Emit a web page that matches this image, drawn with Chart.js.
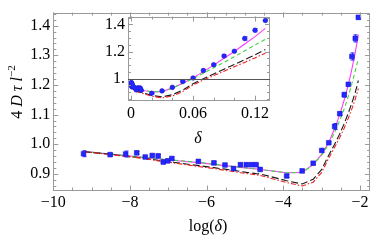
<!DOCTYPE html>
<html lang="en">
<head>
<meta charset="UTF-8">
<title>4 D tau l^-2 versus log(delta)</title>
<script src="https://cdn.jsdelivr.net/npm/chart.js@4.4.1/dist/chart.umd.min.js"></script>
<style>
    body { margin: 0; background: #fff; }
    #wrap { position: relative; width: 374px; height: 240px; overflow: hidden; }
    #mainChart { position: absolute; left: 0; top: 0; }
    #insetChart { position: absolute; left: 90px; top: 4px; }
</style>
</head>
<body>
<div id="wrap">
    <canvas id="mainChart" width="374" height="240"></canvas>
    <canvas id="insetChart" width="190" height="145"></canvas>
</div>
<script>
// delta values of the measurements and of the model curves
const delta = [0.0001, 0.0002, 0.0003, 0.0004, 0.0005, 0.0006, 0.0007, 0.0008, 0.0009, 0.001,
               0.002, 0.003, 0.004, 0.005, 0.006, 0.007, 0.008, 0.009, 0.01,
               0.02, 0.03, 0.04, 0.05, 0.06, 0.07, 0.08, 0.09, 0.10, 0.11, 0.12, 0.13];
// measured 4 D tau / l^2 with error bars
const measured = [0.968, 0.965, 0.967, 0.971, 0.957, 0.962, 0.961, 0.940, 0.944, 0.952,
                  0.942, 0.937, 0.930, 0.918, 0.931, 0.931, 0.931, 0.931, 0.915,
                  0.893, 0.910, 0.936, 0.979, 1.005, 1.060, 1.103, 1.167, 1.202, 1.296, 1.357, 1.428];
const errors = [0.010, 0.004, 0.010, 0.005, 0.004, 0.005, 0.004, 0.006, 0.005, 0.005,
                0.004, 0.004, 0.004, 0.004, 0.004, 0.004, 0.004, 0.004, 0.004,
                0.005, 0.004, 0.005, 0.006, 0.004, 0.010, 0.005, 0.008, 0.005, 0.012, 0.012, 0.006];
// model curves
const curveMagenta = [0.976, 0.967, 0.962, 0.958, 0.955, 0.953, 0.951, 0.949, 0.947, 0.946,
                      0.938, 0.932, 0.928, 0.925, 0.922, 0.920, 0.918, 0.917, 0.915,
                      0.904, 0.905, 0.932, 0.966, 1.006, 1.052, 1.100, 1.150, 1.200, 1.255, 1.310, 1.370];
const curveGreen = [0.976, 0.967, 0.962, 0.958, 0.955, 0.953, 0.951, 0.949, 0.948, 0.947,
                    0.939, 0.933, 0.928, 0.925, 0.922, 0.920, 0.918, 0.917, 0.915,
                    0.904, 0.905, 0.931, 0.964, 1.000, 1.040, 1.080, 1.120, 1.162, 1.205, 1.248, 1.290];
const curveBlack = [0.975, 0.966, 0.960, 0.956, 0.952, 0.949, 0.946, 0.944, 0.942, 0.940,
                    0.928, 0.921, 0.916, 0.912, 0.908, 0.905, 0.903, 0.901, 0.900,
                    0.877, 0.866, 0.882, 0.915, 0.963, 1.000, 1.035, 1.070, 1.105, 1.140, 1.175, 1.215];
const curveRed = [0.975, 0.965, 0.959, 0.955, 0.951, 0.947, 0.944, 0.942, 0.940, 0.938,
                  0.925, 0.918, 0.912, 0.908, 0.904, 0.901, 0.899, 0.897, 0.895,
                  0.871, 0.859, 0.872, 0.905, 0.953, 0.990, 1.023, 1.055, 1.088, 1.120, 1.153, 1.188];
// tick labels
const mainXTicks = [-10, -8, -6, -4, -2];
const mainYTicks = [0.9, 1.0, 1.1, 1.2, 1.3, 1.4];
const insetXTicks = [0, 0.06, 0.12];
const insetXLabels = ['0', '0.06', '0.12'];
const insetYTicks = [1.0, 1.2, 1.4];
const insetYLabels = ['1.', '1.2', '1.4'];

const serif = '"Liberation Serif", "DejaVu Serif", serif';
const tickFont = { family: serif, size: 16 };
const frameColor = '#9a9a9a';

function toPoints(xs, ys) {
    return xs.map((x, i) => ({ x: x, y: ys[i] }));
}
const logDelta = delta.map(d => Math.log(d));

function pointSet(xs, style, radius) {
    return {
        data: toPoints(xs, measured), errors: errors, showLine: false,
        pointStyle: style, pointRadius: radius, pointHoverRadius: radius,
        backgroundColor: '#2626ff', borderColor: '#1414c8', borderWidth: 0.6, order: 0
    };
}
function curveSet(xs, ys, color, dash, order) {
    return {
        data: toPoints(xs, ys), showLine: true, pointRadius: 0,
        borderColor: color, borderWidth: 1.1, borderDash: dash, order: order
    };
}

// frame with inward ticks on all four sides
const frameTicks = {
    id: 'frameTicks',
    afterDraw(chart, args, o) {
        const { ctx, chartArea: a, scales: { x, y } } = chart;
        ctx.save();
        ctx.strokeStyle = frameColor;
        ctx.lineWidth = 1;
        ctx.strokeRect(Math.round(a.left) + 0.5, Math.round(a.top) + 0.5,
                       Math.round(a.right - a.left) - 1, Math.round(a.bottom - a.top) - 1);
        const each = (scale, step, fn) => {
            for (let k = Math.ceil(scale.min / step - 1e-6); k * step <= scale.max + 1e-9; k++) {
                fn(scale.getPixelForValue(k * step));
            }
        };
        const tick = (x1, y1, x2, y2) => {
            ctx.beginPath(); ctx.moveTo(x1, y1); ctx.lineTo(x2, y2); ctx.stroke();
        };
        [[o.xMinor, 3], [o.xMajor, 5]].forEach(([step, len]) => each(x, step, px => {
            px = Math.round(px) + 0.5;
            tick(px, a.bottom, px, a.bottom - len);
            tick(px, a.top, px, a.top + len);
        }));
        [[o.yMinor, 3], [o.yMajor, 5]].forEach(([step, len]) => each(y, step, py => {
            py = Math.round(py) + 0.5;
            tick(a.left, py, a.left + len, py);
            tick(a.right, py, a.right - len, py);
        }));
        ctx.restore();
    }
};

// vertical error bars for datasets that carry an errors array
const errorBars = {
    id: 'errorBars',
    afterDatasetsDraw(chart) {
        const { ctx, scales: { x, y } } = chart;
        ctx.save();
        ctx.strokeStyle = '#2626ff';
        ctx.lineWidth = 1;
        chart.data.datasets.forEach(ds => {
            if (!ds.errors) return;
            ds.data.forEach((p, i) => {
                const px = Math.round(x.getPixelForValue(p.x)) + 0.5;
                const top = y.getPixelForValue(p.y + ds.errors[i]);
                const bot = y.getPixelForValue(p.y - ds.errors[i]);
                if (px < chart.chartArea.left || px > chart.chartArea.right) return;
                ctx.beginPath();
                ctx.moveTo(px, top); ctx.lineTo(px, bot);
                ctx.moveTo(px - 2, top); ctx.lineTo(px + 2, top);
                ctx.moveTo(px - 2, bot); ctx.lineTo(px + 2, bot);
                ctx.stroke();
            });
        });
        ctx.restore();
    }
};

// draws a run of text pieces with their own fonts, centred on cx
function drawPieces(ctx, pieces, cx, cy) {
    let total = 0;
    pieces.forEach(p => { ctx.font = p.font; p.w = ctx.measureText(p.text).width; total += p.w; });
    let x = cx - total / 2;
    ctx.textBaseline = 'middle';
    ctx.textAlign = 'left';
    pieces.forEach(p => {
        ctx.font = p.font;
        ctx.fillText(p.text, x, cy + (p.dy || 0));
        x += p.w;
    });
}

const mainTitles = {
    id: 'mainTitles',
    afterDraw(chart) {
        const ctx = chart.ctx;
        ctx.save();
        ctx.fillStyle = '#000';
        drawPieces(ctx, [
            { text: 'log(', font: '16px ' + serif },
            { text: 'δ', font: 'italic 16px ' + serif },
            { text: ')', font: '16px ' + serif }
        ], 208, 227);
        ctx.translate(18, 92);
        ctx.rotate(-Math.PI / 2);
        drawPieces(ctx, [
            { text: '4 ', font: '16px ' + serif },
            { text: 'D', font: 'italic 16px ' + serif },
            { text: ' τ ', font: 'italic 16px ' + serif },
            { text: 'l', font: 'italic 16px ' + serif },
            { text: '\u22122', font: '11px ' + serif, dy: -6 }
        ], 0, 0);
        ctx.restore();
    }
};

const insetTitles = {
    id: 'insetTitles',
    afterDraw(chart) {
        const ctx = chart.ctx;
        ctx.save();
        ctx.fillStyle = '#000';
        drawPieces(ctx, [{ text: 'δ', font: 'italic 16px ' + serif }], 108, 135);
        // reference line at 1
        const a = chart.chartArea;
        const py = Math.round(chart.scales.y.getPixelForValue(1)) + 0.5;
        ctx.strokeStyle = '#555';
        ctx.lineWidth = 1;
        ctx.beginPath(); ctx.moveTo(a.left, py); ctx.lineTo(a.right, py); ctx.stroke();
        ctx.restore();
    }
};

function axisOptions(min, max, values, fmt, fitSize, isX) {
    return {
        type: 'linear', min: min, max: max,
        afterBuildTicks(s) { s.ticks = values.map(v => ({ value: v })); },
        afterFit(s) { if (isX) s.height = fitSize; else s.width = fitSize; },
        ticks: { callback: fmt, font: tickFont, color: '#000', padding: 3,
                 maxRotation: 0, autoSkip: false, includeBounds: false },
        grid: { display: false, drawTicks: false },
        border: { display: false }
    };
}

new Chart(document.getElementById('mainChart'), {
    type: 'scatter',
    data: {
        datasets: [
            pointSet(logDelta, 'rect', 3.3),
            curveSet(logDelta, curveMagenta, '#ff3cff', [], 4),
            curveSet(logDelta, curveGreen, '#3cd83c', [4, 3], 3),
            curveSet(logDelta, curveBlack, '#1a1a1a', [7, 3], 2),
            curveSet(logDelta, curveRed, '#ee2222', [5, 2, 1.5, 2], 1)
        ]
    },
    options: {
        responsive: false,
        animation: false,
        layout: { padding: { top: 0, right: 1, left: 0, bottom: 0 } },
        plugins: { legend: { display: false }, tooltip: { enabled: false },
                   frameTicks: { xMajor: 2, xMinor: 0.5, yMajor: 0.1, yMinor: 0.02 } },
        scales: {
            x: axisOptions(-10, -1.734, mainXTicks, v => v < 0 ? '\u2212' + Math.abs(v) : String(v), 49.5, true),
            y: axisOptions(0.844, 1.444, mainYTicks, v => v.toFixed(1), 53.3, false)
        }
    },
    plugins: [frameTicks, errorBars, mainTitles]
});

new Chart(document.getElementById('insetChart'), {
    type: 'scatter',
    data: {
        datasets: [
            pointSet(delta, 'circle', 2.3),
            curveSet(delta, curveMagenta, '#ff3cff', [], 4),
            curveSet(delta, curveGreen, '#3cd83c', [4, 3], 3),
            curveSet(delta, curveBlack, '#1a1a1a', [7, 3], 2),
            curveSet(delta, curveRed, '#ee2222', [5, 2, 1.5, 2], 1)
        ]
    },
    options: {
        responsive: false,
        animation: false,
        layout: { padding: { top: 10, right: 10, left: 0, bottom: 0 } },
        plugins: { legend: { display: false }, tooltip: { enabled: false },
                   frameTicks: { xMajor: 0.06, xMinor: 0.02, yMajor: 0.2, yMinor: 0.05 } },
        scales: {
            x: axisOptions(-0.0029, 0.1345, insetXTicks, (v, i) => insetXLabels[i], 48.3, true),
            y: axisOptions(0.838, 1.457, insetYTicks, (v, i) => insetYLabels[i], 38, false)
        }
    },
    plugins: [frameTicks, errorBars, insetTitles]
});
</script>
</body>
</html>
